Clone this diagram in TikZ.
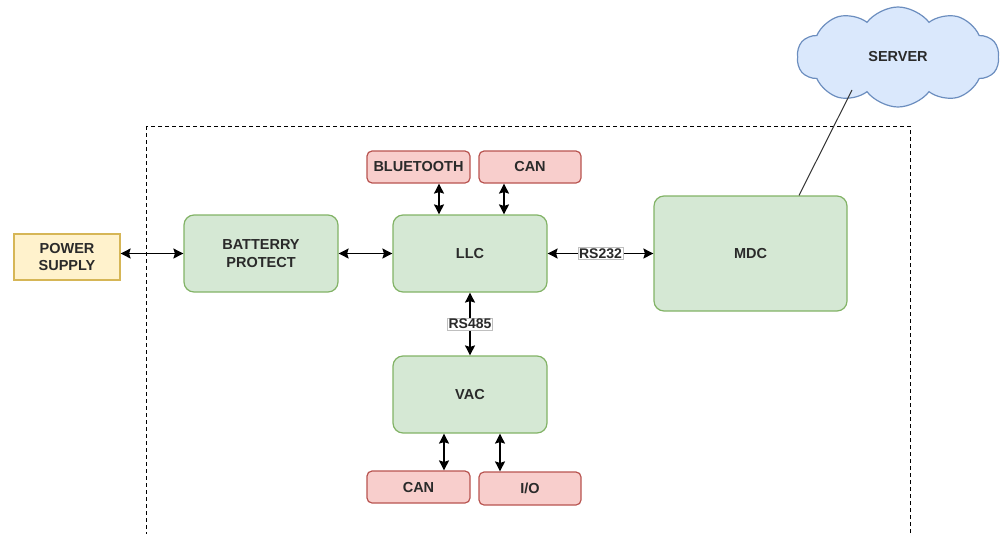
\documentclass[tikz,border=0pt]{standalone}
\usepackage{fontspec}
\setmainfont{Liberation Sans}
\usetikzlibrary{shapes.symbols,arrows.meta,calc}
\definecolor{ylwF}{HTML}{FFF2CC}
\definecolor{ylwD}{HTML}{D6B656}
\definecolor{grnF}{HTML}{D5E8D4}
\definecolor{grnD}{HTML}{82B366}
\definecolor{redF}{HTML}{F8CECC}
\definecolor{redD}{HTML}{B85450}
\definecolor{bluF}{HTML}{DAE8FC}
\definecolor{bluD}{HTML}{6C8EBF}
\definecolor{txt}{HTML}{2A2A2A}
\tikzset{
  every node/.style={font=\fontsize{14.5}{17.5}\selectfont\bfseries, text=txt},
  boxbase/.style={draw, line width=1.2pt, align=center, inner sep=0pt},
  ylwbox/.style={boxbase, fill=ylwF, draw=ylwD},
  grnbox/.style={boxbase, fill=grnF, draw=grnD, rounded corners=10pt},
  redbox/.style={boxbase, fill=redF, draw=redD, rounded corners=5pt},
  arr/.style={line width=1.4pt, {Stealth[length=10pt,width=10pt,inset=1.5pt]}-{Stealth[length=10pt,width=10pt,inset=1.5pt]}},
  lbl/.style={fill=white, draw=black!25, line width=0.6pt, inner sep=1.2pt, font=\fontsize{14}{15}\selectfont\bfseries}
}
\begin{document}
\begin{tikzpicture}[x=1pt,y=-1pt]
\useasboundingbox (0,0) rectangle (1000,533);
\begin{scope}
\clip (0,0) rectangle (1000,533);
\draw[dashed, line width=1pt, dash pattern=on 4pt off 3pt] (146,126) rectangle (910,560);
\end{scope}
\node[ylwbox, minimum width=106pt, minimum height=46pt] (ps) at (67,257) {POWER\\SUPPLY};
\node[grnbox, minimum width=154pt, minimum height=77pt] (bp) at (261,253.5) {BATTERRY\\PROTECT};
\node[grnbox, minimum width=154pt, minimum height=77pt] (llc) at (470,253.5) {LLC};
\node[grnbox, minimum width=154pt, minimum height=77pt] (vac) at (470,394.5) {VAC};
\node[grnbox, minimum width=193pt, minimum height=115pt] (mdc) at (750.5,253.5) {MDC};
\node[redbox, minimum width=103pt, minimum height=32pt] (bt) at (418.5,167) {BLUETOOTH};
\node[redbox, minimum width=102pt, minimum height=32pt] (cant) at (530,167) {CAN};
\node[redbox, minimum width=103pt, minimum height=32pt] (canb) at (418.5,487) {CAN};
\node[redbox, minimum width=102pt, minimum height=33pt] (io) at (530,488.5) {I/O};
\node[cloud, cloud puffs=10, cloud puff arc=105, cloud ignores aspect, draw=bluD, fill=bluF, line width=1.2pt, minimum width=202pt, minimum height=100pt, inner sep=0pt] (srv) at (898,57) {SERVER};

\draw[arr] (ps.east |- bp.west) -- (bp.west);
\draw[arr] (bp) -- (llc);
\draw[arr] (llc) -- node[lbl] {RS232} (mdc);
\draw[arr] (llc) -- node[lbl] {RS485} (vac);
\draw[arr] ([xshift=20.5pt]bt.south) -- ([xshift=20.5pt]bt.south |- llc.north);
\draw[arr] ([xshift=-26pt]cant.south) -- ([xshift=-26pt]cant.south |- llc.north);
\draw[arr] ([xshift=25.5pt]canb.north) -- ([xshift=25.5pt]canb.north |- vac.south);
\draw[arr] ([xshift=-30pt]io.north) -- ([xshift=-30pt]io.north |- vac.south);
\coordinate (m1) at ([xshift=48.5pt]mdc.north);
\coordinate (s1) at (852,90);
\draw[line width=1pt, black!80] (m1) -- (s1);
\end{tikzpicture}
\end{document}
